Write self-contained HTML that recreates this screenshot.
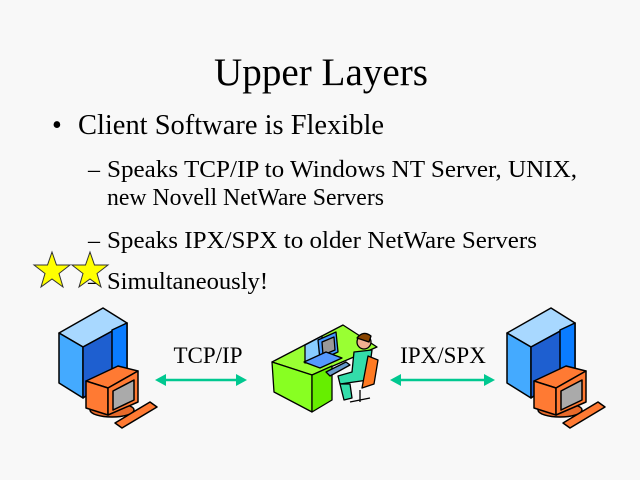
<!DOCTYPE html>
<html><head><meta charset="utf-8"><style>
html,body{margin:0;padding:0;background:#f8f8f8;}
svg{display:block;}
text{font-family:"Liberation Serif",serif;fill:#000;}
</style></head><body>
<svg width="640" height="480" viewBox="0 0 640 480" xmlns="http://www.w3.org/2000/svg">
<rect width="640" height="480" fill="#f8f8f8"/>
<text x="214" y="85" font-size="39" textLength="214" lengthAdjust="spacingAndGlyphs">Upper Layers</text>
<text x="52" y="134" font-size="28">•</text>
<text x="78" y="134" font-size="28" textLength="306" lengthAdjust="spacingAndGlyphs">Client Software is Flexible</text>
<g font-size="24">
<text x="88" y="177">–</text><text x="107" y="177" textLength="470" lengthAdjust="spacingAndGlyphs">Speaks TCP/IP to Windows NT Server, UNIX,</text>
<text x="107" y="205" textLength="277" lengthAdjust="spacingAndGlyphs">new Novell NetWare Servers</text>
<text x="88" y="248">–</text><text x="107" y="248" textLength="430" lengthAdjust="spacingAndGlyphs">Speaks IPX/SPX to older NetWare Servers</text>
<text x="88" y="289">–</text><text x="107" y="289" textLength="161" lengthAdjust="spacingAndGlyphs">Simultaneously!</text>
</g>
<defs>
<polygon id="star" points="0,-19 4.5,-6 18,-6 7,2.5 11,16 0,8 -11,16 -7,2.5 -18,-6 -4.5,-6" fill="#ffff00" stroke="#333" stroke-width="1"/>
<g id="srv" stroke="#000" stroke-width="1.5" stroke-linejoin="round">
<polygon points="59,333 103,308 127,323 83,347" fill="#a8d8ff"/>
<polygon points="59,333 83,347 83,398 59,383" fill="#44aaff"/>
<polygon points="83,347 127,323 127,368 83,398" fill="#1e5fd0"/>
<polygon points="112,330 127,323 127,368 112,376" fill="#0a7cff"/>
<ellipse cx="112" cy="410" rx="22" ry="7" fill="#e86a2a"/>
<polygon points="86,381 118,366 138,371 108,388" fill="#ff7a33"/>
<polygon points="86,381 108,388 108,415 86,408" fill="#ff7a33"/>
<polygon points="108,388 138,371 138,402 108,415" fill="#ff7a33"/>
<polygon points="113,391 134,380 134,400 113,410" fill="#aaaaaa"/>
<polygon points="115,423 150,402 157,407 122,428" fill="#ff7a33"/>
</g>
</defs>
<use href="#star" x="52" y="271"/>
<use href="#star" x="90" y="271"/>
<use href="#srv"/>
<use href="#srv" x="448" y="0"/>
<text x="208" y="363" font-size="23" text-anchor="middle">TCP/IP</text>
<text x="443" y="363" font-size="23" text-anchor="middle">IPX/SPX</text>
<g stroke="#00c890" stroke-width="2.5" fill="#00c890">
<line x1="162" y1="380" x2="240" y2="380"/>
<polygon points="155,380 166,374 166,386" stroke="none"/>
<polygon points="247,380 236,374 236,386" stroke="none"/>
<line x1="397" y1="380" x2="488" y2="380"/>
<polygon points="390,380 401,374 401,386" stroke="none"/>
<polygon points="495,380 484,374 484,386" stroke="none"/>
</g>
<g stroke="#000" stroke-width="1.3" stroke-linejoin="round">
<polygon points="272,362 343,325 377,347 312,375" fill="#99ff33"/>
<polygon points="272,362 312,375 312,412 274,392" fill="#88ff22"/>
<polygon points="312,375 332,366 332,400 312,412" fill="#66ee00"/>
<polygon points="305,345 322,336 322,356 305,363" fill="#88ccff"/>
<polygon points="318,340 336,332 338,352 320,360" fill="#4499ff"/>
<polygon points="322,342 334,337 335,350 323,355" fill="#999"/>
<polygon points="304,362 326,352 342,358 320,368" fill="#5599ff"/>
<polygon points="326,372 346,362 350,365 330,376" fill="#6699cc"/>
<circle cx="364" cy="342" r="7" fill="#f0b090"/>
<path d="M357,338 q6,-8 14,-2 l-2,6 z" fill="#884400"/>
<polygon points="354,352 372,350 368,380 340,384 338,376 352,372" fill="#33ddaa"/>
<polygon points="368,356 378,360 374,384 362,388" fill="#ff7a22"/>
<polygon points="340,384 350,384 352,398 344,400" fill="#33ddaa"/>
<line x1="360" y1="390" x2="360" y2="402"/>
<line x1="350" y1="402" x2="370" y2="398"/>
</g>
</svg>
</body></html>
